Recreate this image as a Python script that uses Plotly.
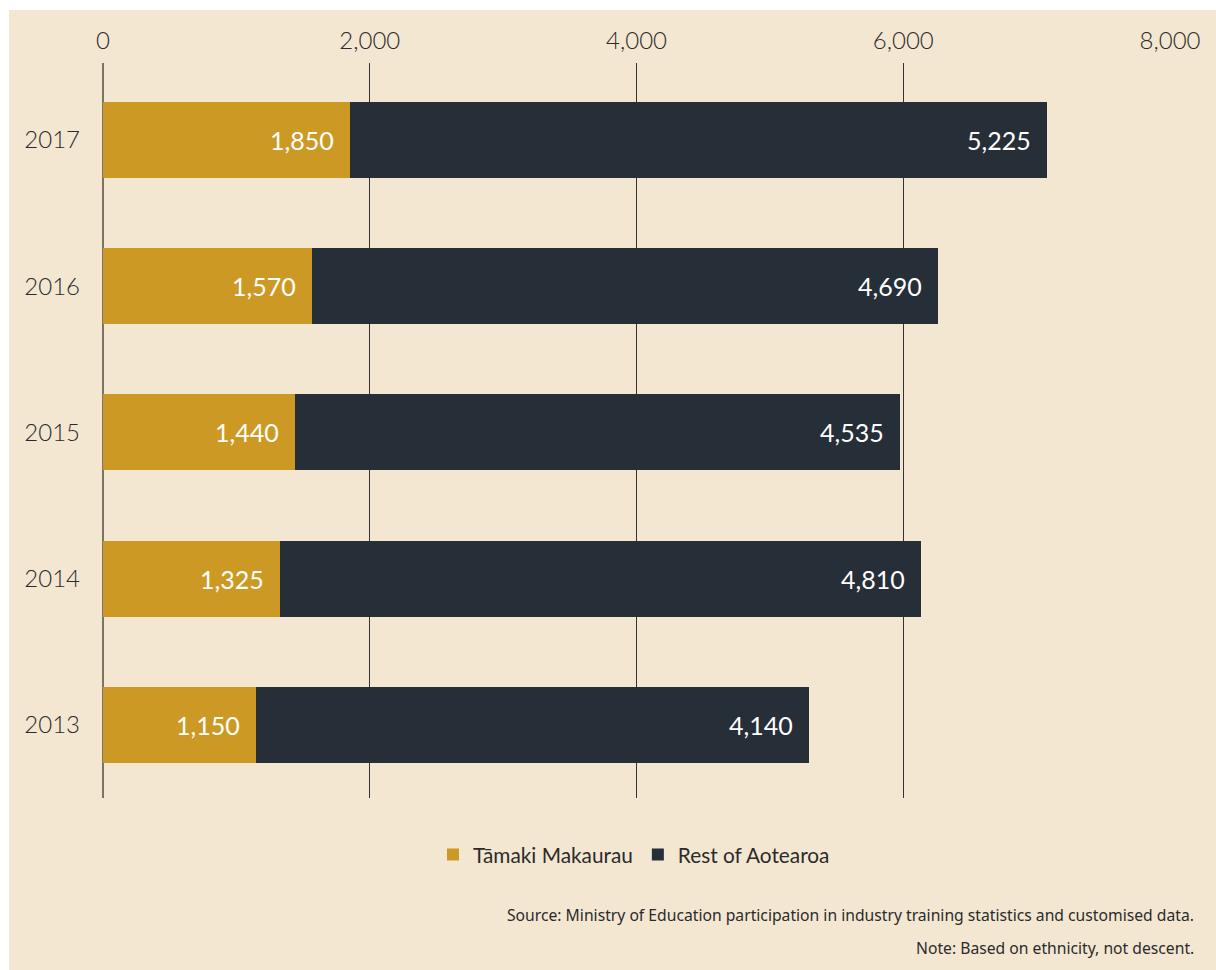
import plotly.graph_objects as go

# Industry training participants by year
years = ["2017", "2016", "2015", "2014", "2013"]
tamaki = [1850, 1570, 1440, 1325, 1150]
rest = [5225, 4690, 4535, 4810, 4140]
x_ticks = [0, 2000, 4000, 6000, 8000]
x_tick_labels = ["0", "2,000", "4,000", "6,000", "8,000"]

GOLD = "#CC9A24"
DARK = "#262E38"
BG = "#F3E7D2"
TEXT = "#2b2b2b"
FONT = "Lato, 'Open Sans', sans-serif"

fig = go.Figure()
fig.add_trace(go.Bar(
    y=years, x=tamaki, orientation="h", name="Tāmaki Makaurau",
    marker=dict(color=GOLD, line=dict(width=0)),
))
fig.add_trace(go.Bar(
    y=years, x=rest, orientation="h", name="Rest of Aotearoa",
    marker=dict(color=DARK, line=dict(width=0)),
))

# value labels, right-aligned inside each segment (y given as category index)
annotations = []
for i, (a, b) in enumerate(zip(tamaki, rest)):
    for end, val in ((a, a), (a + b, b)):
        annotations.append(dict(
            x=end, y=i, xref="x", yref="y", text=f"{val:,}",
            showarrow=False, xanchor="right", yanchor="middle", xshift=-14,
            font=dict(family=FONT, size=25, color="white"),
        ))

notes = [
    ("Source: Ministry of Education participation in industry training statistics and customised data.", 915),
    ("Note: Based on ethnicity, not descent.", 948),
]
for txt, py in notes:
    annotations.append(dict(
        x=(1196 - 103) / 1067, y=(798 - py) / 735, xref="paper", yref="paper",
        text=txt, showarrow=False, xanchor="right", yanchor="middle",
        font=dict(family="'Liberation Sans Narrow', 'Noto Sans', sans-serif", size=15.7, color=TEXT),
    ))

# white strip on the left and top edges of the page
shapes = [
    dict(type="rect", xref="paper", yref="paper", x0=-0.2, x1=(9 - 103) / 1067,
         y0=-0.3, y1=1.2, fillcolor="white", line=dict(width=0), layer="above"),
    dict(type="rect", xref="paper", yref="paper", x0=-0.2, x1=1.2,
         y0=(798 - 10) / 735, y1=1.2, fillcolor="white", line=dict(width=0), layer="above"),
]

fig.update_layout(
    barmode="stack",
    bargap=0.48,
    width=1216, height=970,
    margin=dict(l=103, r=46, t=63, b=172),
    paper_bgcolor=BG, plot_bgcolor=BG,
    font=dict(family=FONT, size=24, color=TEXT),
    xaxis=dict(
        side="top", range=[0, 8000], tickvals=x_ticks, ticktext=x_tick_labels,
        showgrid=True, gridcolor="#333333", gridwidth=1,
        zeroline=True, zerolinecolor="#7d7466", zerolinewidth=2,
        showline=False, ticks="", ticklabelstandoff=8,
        tickfont=dict(family=FONT, size=24, color=TEXT, weight=300),
    ),
    yaxis=dict(
        type="category", categoryorder="array", categoryarray=years,
        range=[4.5, -0.526],
        showgrid=False, zeroline=False, showline=False, ticks="",
        ticklabelstandoff=22,
        tickfont=dict(family=FONT, size=24, color=TEXT, weight=300),
    ),
    legend=dict(
        orientation="h", x=(634 - 103) / 1067, xanchor="center",
        y=(798 - 855) / 735, yanchor="middle",
        font=dict(family=FONT, size=20.8, color=TEXT),
        bgcolor="rgba(0,0,0,0)", itemwidth=30, traceorder="normal",
    ),
    showlegend=True,
    annotations=annotations,
    shapes=shapes,
)

fig.write_html("out.html")
